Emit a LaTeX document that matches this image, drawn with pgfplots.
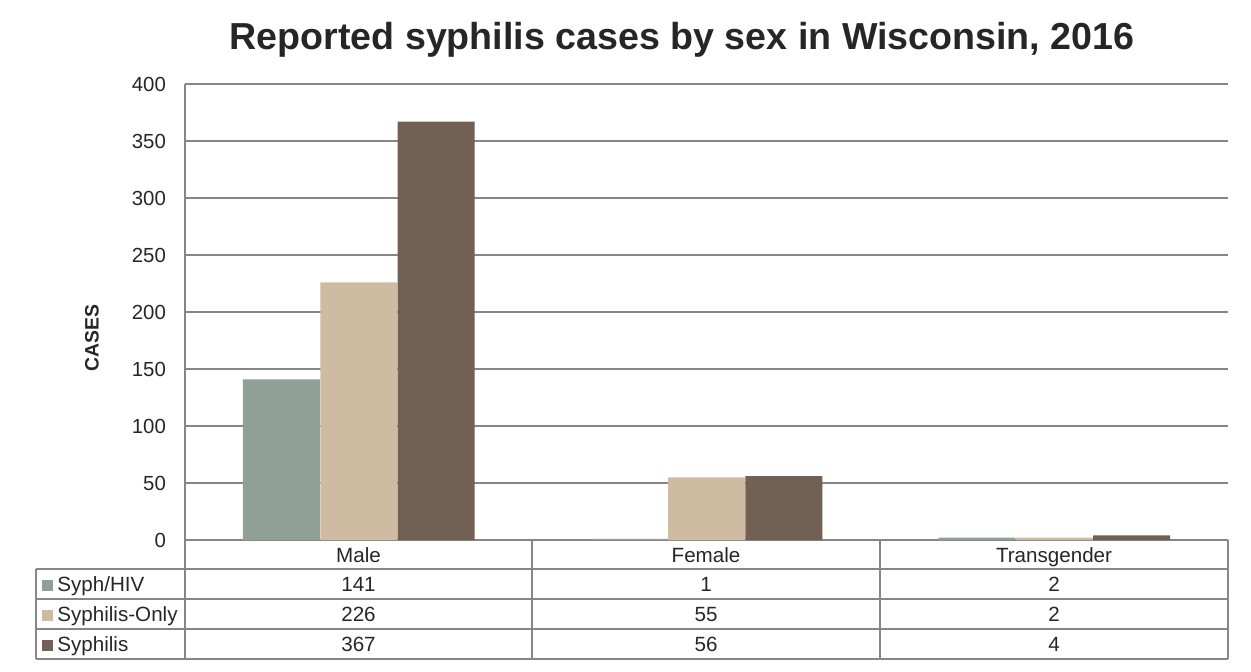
\documentclass[border=0pt]{standalone}
\usepackage{pgfplots}
\pgfplotsset{compat=1.18}
\usepackage{fontspec}
\setmainfont{Liberation Sans}

\definecolor{hivcol}{HTML}{91A097}
\definecolor{onlycol}{HTML}{CEBBA2}
\definecolor{syphcol}{HTML}{726054}
\definecolor{gridcol}{HTML}{868686}
\definecolor{txtcol}{HTML}{262626}

\begin{document}
\begin{tikzpicture}
  \useasboundingbox (0,0) rectangle (625.5pt,335.5pt);
  \begin{axis}[
    at={(92.5pt,65.5pt)}, anchor=south west,
    scale only axis,
    width=521.5pt, height=228pt,
    xmin=0, xmax=3,
    ymin=0, ymax=400,
    ytick={0,50,...,400},
    xtick=\empty,
    ymajorgrids,
    grid style={gridcol, line width=0.7pt},
    axis line style={gridcol, line width=0.7pt},
    axis x line=bottom, axis y line=left,
    x axis line style={-}, y axis line style={-},
    major tick length=0pt,
    /pgf/number format/assume math mode=true,
    yticklabel style={font=\fontsize{10.2}{12}\selectfont, text=txtcol, xshift=-6pt},
    clip=false,
  ]
    \addplot[ybar, bar width=0.2215, bar shift=-0.2225, fill=hivcol, draw=none]
      coordinates {(0.5,141) (1.5,1) (2.5,2)};
    \addplot[ybar, bar width=0.2215, bar shift=0, fill=onlycol, draw=none]
      coordinates {(0.5,226) (1.5,55) (2.5,2)};
    \addplot[ybar, bar width=0.2215, bar shift=0.2225, fill=syphcol, draw=none]
      coordinates {(0.5,367) (1.5,56) (2.5,4)};
  \end{axis}

  % title, y label, data table (coordinates in pixels of the reference)
  \begin{scope}[x=0.5pt, y=-0.5pt, yshift=335.5pt]
    \node[font=\fontsize{18.8}{22}\selectfont\bfseries, text=txtcol, anchor=base] at (682,50)
      {Reported syphilis cases by sex in Wisconsin, 2016};
    \node[font=\fontsize{9.7}{12}\selectfont\bfseries, text=txtcol, rotate=90] at (92,338) {CASES};

    \draw[gridcol, line width=0.7pt]
      (36,569) -- (1228,569)
      (36,599) -- (1228,599)
      (36,629) -- (1228,629)
      (36,659) -- (1228,659)
      (36,569) -- (36,659)
      (185,540) -- (185,659)
      (532,540) -- (532,659)
      (880,540) -- (880,659)
      (1228,540) -- (1228,659);

    \begin{scope}[every node/.style={font=\fontsize{10.3}{12}\selectfont, text=txtcol, anchor=base, inner sep=0pt}]
      \node at (358.5,562) {Male};
      \node at (706,562) {Female};
      \node at (1054,562) {Transgender};

      \fill[hivcol]  (42,580) rectangle (53,591);
      \fill[onlycol] (42,610) rectangle (53,621);
      \fill[syphcol] (42,640) rectangle (53,651);
      \node[anchor=base west] at (57,591) {Syph/HIV};
      \node[anchor=base west] at (57,621) {Syphilis-Only};
      \node[anchor=base west] at (57,651) {Syphilis};

      \node at (358.5,591) {141};
      \node at (706,591) {1};
      \node at (1054,591) {2};
      \node at (358.5,621) {226};
      \node at (706,621) {55};
      \node at (1054,621) {2};
      \node at (358.5,651) {367};
      \node at (706,651) {56};
      \node at (1054,651) {4};
    \end{scope}
  \end{scope}
\end{tikzpicture}
\end{document}
